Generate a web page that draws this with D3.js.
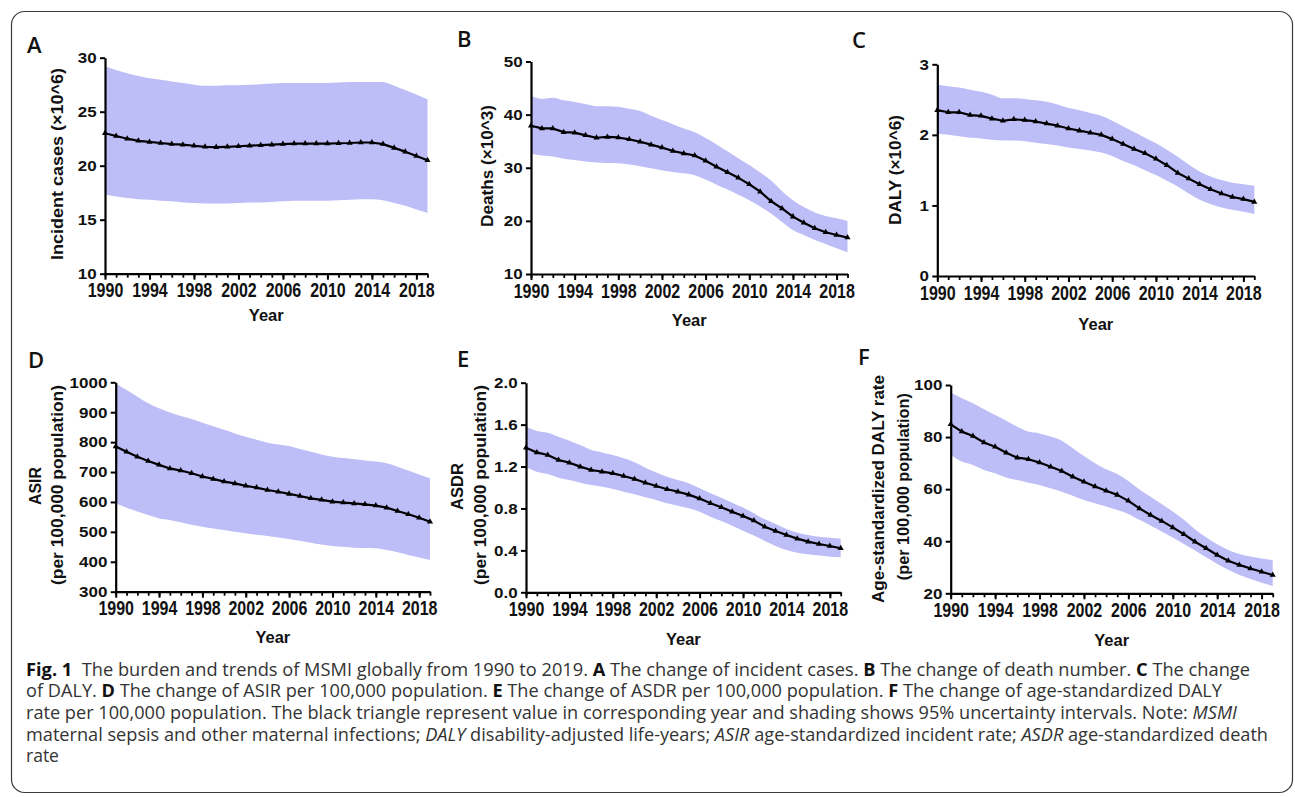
<!DOCTYPE html>
<html>
<head>
<meta charset="utf-8">
<script src="https://cdn.jsdelivr.net/npm/d3@7"></script>
<style>
  html, body { margin: 0; padding: 0; background: #fff; }
  svg { display: block; }
</style>
</head>
<body>
<svg id="fig" width="1295" height="797"></svg>
<script>
// ---------------- DATA ----------------
const years = [1990,1991,1992,1993,1994,1995,1996,1997,1998,1999,2000,2001,2002,2003,2004,2005,2006,2007,2008,2009,2010,2011,2012,2013,2014,2015,2016,2017,2018,2019];
const xTickLabels = [1990,1994,1998,2002,2006,2010,2014,2018];

// A: incident cases (x10^6)
const incidentMean  = [23.0,22.75,22.5,22.3,22.2,22.1,22.0,21.95,21.85,21.75,21.72,21.75,21.8,21.85,21.9,21.95,22.0,22.05,22.05,22.05,22.05,22.08,22.1,22.15,22.15,22.0,21.65,21.3,20.9,20.5];
const incidentUpper = [29.2,28.85,28.55,28.3,28.1,27.95,27.8,27.65,27.5,27.4,27.4,27.45,27.45,27.5,27.55,27.6,27.65,27.65,27.65,27.65,27.65,27.7,27.75,27.75,27.75,27.75,27.4,27.0,26.6,26.15];
const incidentLower = [17.3,17.15,17.0,16.9,16.85,16.75,16.7,16.6,16.55,16.5,16.5,16.5,16.55,16.6,16.6,16.65,16.7,16.75,16.75,16.75,16.75,16.8,16.85,16.9,16.9,16.8,16.55,16.3,15.95,15.65];
const incidentTicks = [10,15,20,25,30];

// B: deaths (x10^3)
const deathsMean  = [37.9,37.4,37.4,36.7,36.6,36.1,35.65,35.8,35.7,35.35,34.9,34.35,33.8,33.15,32.7,32.3,31.3,30.2,29.15,28.1,26.9,25.5,23.7,22.35,20.8,19.65,18.6,17.85,17.35,16.85];
const deathsUpper = [43.5,43.0,43.2,42.7,42.4,42.0,41.6,41.6,41.5,41.1,40.7,39.8,39.0,38.2,37.4,36.7,35.6,34.4,33.1,31.8,30.5,29.1,27.6,25.6,23.9,22.6,21.6,20.9,20.5,20.0];
const deathsLower = [32.7,32.3,32.1,31.7,31.45,31.2,31.0,30.9,30.85,30.6,30.3,29.9,29.55,29.2,28.95,28.6,27.8,26.8,25.9,24.9,23.9,22.7,21.4,19.8,18.3,17.35,16.4,15.65,14.85,14.1];
const deathsTicks = [10,20,30,40,50];

// C: DALY (x10^6)
const dalyMean  = [2.35,2.32,2.32,2.28,2.27,2.23,2.20,2.22,2.21,2.19,2.16,2.13,2.09,2.06,2.03,2.00,1.94,1.87,1.80,1.74,1.66,1.57,1.46,1.38,1.30,1.23,1.17,1.12,1.09,1.05];
const dalyUpper = [2.71,2.69,2.67,2.64,2.61,2.57,2.52,2.52,2.51,2.49,2.47,2.43,2.38,2.35,2.31,2.27,2.20,2.12,2.04,1.96,1.88,1.79,1.69,1.58,1.48,1.41,1.36,1.32,1.30,1.28];
const dalyLower = [2.02,2.00,1.98,1.96,1.95,1.93,1.92,1.92,1.91,1.89,1.87,1.85,1.82,1.80,1.78,1.75,1.70,1.63,1.57,1.50,1.43,1.35,1.27,1.17,1.08,1.02,0.97,0.94,0.91,0.88];
const dalyTicks = [0,1,2,3];

// D: ASIR per 100,000
const asirMean  = [785,768,751,737,724,712,705,696,685,677,668,662,654,648,640,634,627,620,612,607,601,598,595,592,588,581,570,559,547,534];
const asirUpper = [997,974,952,930,913,899,887,877,865,853,841,829,818,808,798,792,787,777,768,759,751,747,743,739,735,729,718,705,692,679];
const asirLower = [595,581,568,556,545,540,532,524,517,511,506,500,495,490,486,481,476,470,464,458,453,450,447,446,445,439,432,423,414,406];
const asirTicks = [300,400,500,600,700,800,900,1000];

// E: ASDR per 100,000
const asdrMean  = [1.38,1.335,1.31,1.262,1.237,1.199,1.167,1.151,1.135,1.11,1.081,1.046,1.014,0.983,0.960,0.932,0.894,0.849,0.811,0.769,0.728,0.684,0.626,0.585,0.547,0.512,0.483,0.461,0.442,0.42];
const asdrUpper = [1.58,1.54,1.523,1.485,1.447,1.405,1.358,1.335,1.31,1.278,1.24,1.189,1.142,1.103,1.072,1.04,0.992,0.944,0.903,0.855,0.808,0.754,0.696,0.652,0.604,0.569,0.547,0.531,0.521,0.512];
const asdrLower = [1.199,1.151,1.129,1.094,1.072,1.046,1.024,1.008,0.986,0.96,0.935,0.906,0.881,0.849,0.827,0.801,0.769,0.722,0.680,0.636,0.588,0.541,0.490,0.442,0.404,0.378,0.362,0.35,0.34,0.334];
const asdrTicks = [0.0,0.4,0.8,1.2,1.6,2.0];

// F: age-standardized DALY rate per 100,000
const dalyRateMean  = [84.9,82.1,80.4,77.9,76.3,74.0,72.1,71.5,70.2,68.6,67.0,64.8,62.8,61.0,59.4,57.8,55.5,52.6,50.1,47.8,45.3,42.7,39.8,37.3,34.7,32.5,30.9,29.5,28.3,27.0];
const dalyRateUpper = [97.1,94.9,93.0,90.7,88.5,86.3,84.0,82.1,81.4,80.2,78.6,75.7,72.7,69.9,67.6,65.8,63.1,59.9,57.1,54.3,51.4,48.2,44.6,41.5,38.8,36.6,35.1,34.1,33.4,32.8];
const dalyRateLower = [73.1,70.6,69.3,67.4,66.1,64.5,63.5,62.5,61.6,60.3,59.0,57.5,55.8,54.6,53.3,52.0,50.5,48.2,46.0,43.7,41.4,38.9,36.4,33.8,31.3,29.0,27.0,25.5,24.1,22.8];
const dalyRateTicks = [20,40,60,80,100];

// ---------------- LAYOUT ----------------
const panels = [
  { letter:"A", lx:27, ly:53, mean:incidentMean, upper:incidentUpper, lower:incidentLower, ticks:incidentTicks, fmt:d3.format("d"),
    x0:105, x1:427.5, yTop:57.7, yBot:273.7, yearY:321,
    titles:[{t:"Incident cases (×10^6)", cx:57, cy:164, len:192}] },
  { letter:"B", lx:457, ly:47, mean:deathsMean, upper:deathsUpper, lower:deathsLower, ticks:deathsTicks, fmt:d3.format("d"),
    x0:531, x1:847.5, yTop:61.5, yBot:274, yearY:326,
    titles:[{t:"Deaths (×10^3)", cx:486.7, cy:166, len:122}] },
  { letter:"C", lx:852, ly:48, mean:dalyMean, upper:dalyUpper, lower:dalyLower, ticks:dalyTicks, fmt:d3.format("d"),
    x0:937.3, x1:1254.3, yTop:64.3, yBot:276, yearY:330,
    titles:[{t:"DALY (×10^6)", cx:895, cy:170, len:110}] },
  { letter:"D", lx:28, ly:368, mean:asirMean, upper:asirUpper, lower:asirLower, ticks:asirTicks, fmt:d3.format("d"),
    x0:115.7, x1:430, yTop:382.3, yBot:591.7, yearY:643,
    titles:[{t:"ASIR", cx:35, cy:486, len:38},{t:"(per 100,000 population)", cx:57, cy:485, len:200}] },
  { letter:"E", lx:457, ly:367, mean:asdrMean, upper:asdrUpper, lower:asdrLower, ticks:asdrTicks, fmt:d3.format(".1f"),
    x0:526, x1:840.7, yTop:382.7, yBot:592.3, yearY:645,
    titles:[{t:"ASDR", cx:456.7, cy:486.5, len:47},{t:"(per 100,000 population)", cx:480, cy:485, len:200}] },
  { letter:"F", lx:858, ly:365, mean:dalyRateMean, upper:dalyRateUpper, lower:dalyRateLower, ticks:dalyRateTicks, fmt:d3.format("d"),
    x0:950.7, x1:1272.7, yTop:385, yBot:593.3, yearY:646,
    titles:[{t:"Age-standardized DALY rate", cx:878.3, cy:489, len:228},{t:"(per 100,000 population)", cx:903.3, cy:486.7, len:187}] }
];

const svg = d3.select("#fig");
const CHART_FONT = "'Liberation Sans', Arial, sans-serif";
const BAND = "#bdbdf8";

// frame
svg.append("rect").attr("x",11.5).attr("y",11.5).attr("width",1281).attr("height",781)
  .attr("rx",13).attr("ry",13).attr("fill","none").attr("stroke","#3a3a3a").attr("stroke-width",1.2);

panels.forEach(p => {
  const g = svg.append("g");
  const x = d3.scaleLinear().domain([years[0], years[years.length-1]]).range([p.x0, p.x1]);
  const y = d3.scaleLinear().domain([p.ticks[0], p.ticks[p.ticks.length-1]]).range([p.yBot, p.yTop]);

  // band
  const area = d3.area()
    .x((d,i) => x(years[i]))
    .y0((d,i) => y(p.lower[i]))
    .y1((d,i) => y(p.upper[i]))
    .curve(d3.curveMonotoneX);
  g.append("path").datum(years).attr("d", area).attr("fill", BAND);

  // line
  const line = d3.line().x((d,i) => x(years[i])).y(d => y(d));
  g.append("path").datum(p.mean).attr("d", line).attr("fill","none")
    .attr("stroke","#000").attr("stroke-width",2.2).attr("stroke-linejoin","round");

  // triangle markers
  const tri = d3.symbol().type(d3.symbolTriangle).size(16);
  g.selectAll(".mk").data(p.mean).join("path")
    .attr("d", tri)
    .attr("transform", (d,i) => `translate(${x(years[i])},${y(d)})`)
    .attr("fill","#000");

  // minor x ticks (every year)
  const xMinor = g.append("g").attr("transform",`translate(0,${p.yBot})`)
    .call(d3.axisBottom(x).tickValues(years).tickSize(4).tickSizeOuter(0).tickFormat(""));
  xMinor.select(".domain").remove();
  xMinor.selectAll(".tick line").attr("stroke","#000").attr("stroke-width",1.8);

  // major x axis
  const xAx = g.append("g").attr("transform",`translate(0,${p.yBot})`)
    .call(d3.axisBottom(x).tickValues(xTickLabels).tickSize(6).tickSizeOuter(0).tickFormat(d3.format("d")));
  xAx.select(".domain").attr("stroke","#000").attr("stroke-width",2.2);
  xAx.selectAll(".tick line").attr("stroke","#000").attr("stroke-width",2);
  xAx.selectAll(".tick text")
    .attr("y",0).attr("dy",null)
    .attr("transform","translate(0,23.5) scale(1,1.22)")
    .attr("font-family",CHART_FONT).attr("font-weight","bold").attr("font-size",16).attr("fill","#111");

  // y axis
  const yAx = g.append("g").attr("transform",`translate(${p.x0},0)`)
    .call(d3.axisLeft(y).tickValues(p.ticks).tickSize(5).tickSizeOuter(0).tickFormat(p.fmt));
  yAx.select(".domain").attr("stroke","#000").attr("stroke-width",2.2);
  yAx.selectAll(".tick line").attr("stroke","#000").attr("stroke-width",2);
  yAx.selectAll(".tick text")
    .attr("x",0).attr("dy",null).attr("y",0)
    .attr("transform","translate(-8.3,4.8) scale(1,0.85)")
    .attr("font-family",CHART_FONT).attr("font-weight","bold").attr("font-size",17).attr("fill","#111");
  g.selectAll(".tick text").style("font-family",CHART_FONT);

  // x title
  g.append("text").text("Year")
    .attr("x",(p.x0+p.x1)/2).attr("y",p.yearY)
    .attr("text-anchor","middle")
    .attr("font-family",CHART_FONT).attr("font-weight","bold").attr("font-size",16.5).attr("fill","#111");

  // y titles
  p.titles.forEach(t => {
    g.append("text").text(t.t)
      .attr("transform",`translate(${t.cx+5.8},${t.cy}) rotate(-90)`)
      .attr("text-anchor","middle")
      .attr("textLength",t.len).attr("lengthAdjust","spacingAndGlyphs")
      .attr("font-family",CHART_FONT).attr("font-weight","bold").attr("font-size",16.5).attr("fill","#111");
  });

  // panel letter
  svg.append("text").text(p.letter).attr("x",p.lx).attr("y",p.ly)
    .attr("font-family","'Open Sans', sans-serif").attr("font-weight",600).attr("font-size",22).attr("fill","#111");
});

// ---------------- CAPTION ----------------
const captionLines = [
  { y:675.5, len:1224, parts:[["Fig. 1","b"],["  The burden and trends of MSMI globally from 1990 to 2019. ",""],["A","b"],[" The change of incident cases. ",""],["B","b"],[" The change of death number. ",""],["C","b"],[" The change",""]] },
  { y:697, len:1196, parts:[["of DALY. ",""],["D","b"],[" The change of ASIR per 100,000 population. ",""],["E","b"],[" The change of ASDR per 100,000 population. ",""],["F","b"],[" The change of age-standardized DALY",""]] },
  { y:719, len:1211, parts:[["rate per 100,000 population. The black triangle represent value in corresponding year and shading shows 95% uncertainty intervals. Note: ",""],["MSMI","i"]] },
  { y:740.5, len:1242, parts:[["maternal sepsis and other maternal infections; ",""],["DALY","i"],[" disability-adjusted life-years; ",""],["ASIR","i"],[" age-standardized incident rate; ",""],["ASDR","i"],[" age-standardized death",""]] },
  { y:762, len:null, parts:[["rate",""]] }
];
captionLines.forEach(l => {
  const t = svg.append("text").attr("x",26).attr("y",l.y)
    .attr("font-family","'Open Sans', sans-serif").attr("font-size",17.5).attr("fill","#333")
    .style("white-space","pre");
  if (l.len) t.attr("textLength",l.len).attr("lengthAdjust","spacingAndGlyphs");
  l.parts.forEach(([s,st]) => {
    const ts = t.append("tspan").text(s);
    if (st==="b") ts.attr("font-weight","bold").attr("fill","#111");
    if (st==="i") ts.attr("font-style","italic");
  });
});
</script>
</body>
</html>
